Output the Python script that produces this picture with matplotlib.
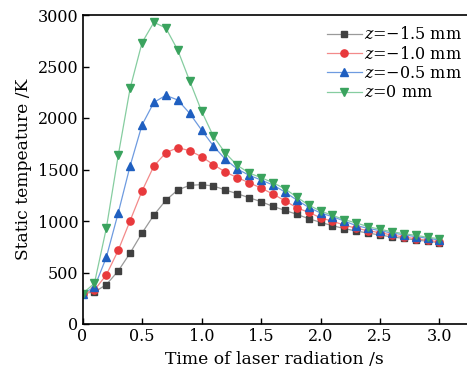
import matplotlib
matplotlib.use("Agg")
import matplotlib.pyplot as plt
import numpy as np

plt.rcParams['font.family'] = ['DejaVu Serif']
plt.rcParams['mathtext.fontset'] = 'dejavuserif'

time_s = [0.0, 0.1, 0.2, 0.3, 0.4, 0.5, 0.6, 0.7, 0.8, 0.9, 1.0,
          1.1, 1.2, 1.3, 1.4, 1.5, 1.6, 1.7, 1.8, 1.9, 2.0,
          2.1, 2.2, 2.3, 2.4, 2.5, 2.6, 2.7, 2.8, 2.9, 3.0]

temp_z_m15 = [295, 310, 382, 515, 689, 883, 1058, 1201, 1301, 1346, 1353,
              1340, 1301, 1265, 1226, 1188, 1142, 1104, 1065, 1023, 987,
              955, 926, 903, 883, 864, 845, 832, 816, 803, 790]
temp_z_m10 = [295, 330, 476, 715, 1003, 1291, 1534, 1662, 1712, 1683, 1625,
              1547, 1476, 1421, 1372, 1320, 1262, 1197, 1129, 1084, 1032,
              997, 961, 929, 906, 886, 864, 845, 828, 812, 799]
temp_z_m05 = [295, 356, 647, 1078, 1535, 1932, 2152, 2220, 2175, 2046, 1884,
              1728, 1600, 1505, 1444, 1398, 1350, 1282, 1204, 1133, 1078,
              1042, 1000, 955, 929, 906, 883, 867, 848, 832, 816]
temp_z_0 = [295, 395, 929, 1636, 2288, 2731, 2929, 2874, 2660, 2362, 2068,
            1822, 1660, 1541, 1466, 1421, 1372, 1314, 1233, 1155, 1097,
            1055, 1013, 981, 945, 919, 896, 877, 861, 842, 828]

labels = [r"$z$=$-$1.5 mm", r"$z$=$-$1.0 mm", r"$z$=$-$0.5 mm", r"$z$=0 mm"]
series = [temp_z_m15, temp_z_m10, temp_z_m05, temp_z_0]
markers = ['s', 'o', '^', 'v']
mcolors = ['#404040', '#e8393c', '#1f5fc0', '#3aa35e']
lcolors = ['#9a9a9a', '#f38a8a', '#6e9be0', '#86cda0']
msizes = [4.4, 5.2, 5.6, 5.6]

fig = plt.figure(figsize=(4.67, 3.75), dpi=100)
ax = fig.add_axes([0.1767, 0.136, 0.823, 0.824])

for y, lab, m, mc, lc, ms in zip(series, labels, markers, mcolors, lcolors, msizes):
    ax.plot(time_s, y, color=lc, lw=0.9, marker=m, markersize=ms,
            markerfacecolor=mc, markeredgecolor=mc, label=lab)

ax.set_xlim(0, 3.23)
ax.set_ylim(0, 3000)
ax.set_xticks([0, 0.5, 1.0, 1.5, 2.0, 2.5, 3.0])
ax.set_xticklabels(['0', '0.5', '1.0', '1.5', '2.0', '2.5', '3.0'])
ax.set_yticks([0, 500, 1000, 1500, 2000, 2500, 3000])
ax.tick_params(direction='in', length=4, width=1, labelsize=11.5, pad=3)
for s in ax.spines.values():
    s.set_linewidth(1.2)
ax.spines['right'].set_visible(False)

ax.set_xlabel('Time of laser radiation /s', fontsize=12.3, labelpad=4)
ax.set_ylabel('Static tempeature /K', fontsize=12.3, labelpad=4)

ax.legend(loc='upper right', frameon=False, fontsize=11.5, handlelength=2.2,
          handletextpad=0.1, labelspacing=0.15, borderaxespad=0.3,
          bbox_to_anchor=(1.015, 1.0))

fig.savefig('out.png', dpi=100)
